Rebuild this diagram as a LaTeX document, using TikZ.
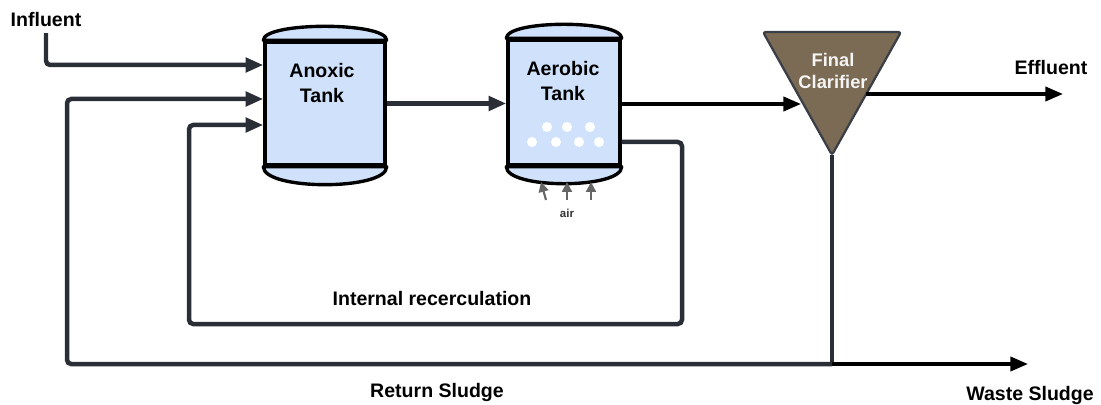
\documentclass[tikz,border=0pt]{standalone}
\usepackage{fontspec}
\setmainfont{Liberation Sans}
\usetikzlibrary{arrows.meta,calc}

\definecolor{tankblue}{HTML}{D0E2FB}
\definecolor{pipe}{HTML}{2A2E36}
\definecolor{clarbrown}{HTML}{7B6B54}
\definecolor{clarline}{HTML}{3A3E47}
\definecolor{airgray}{HTML}{666666}

\tikzset{
	flow/.style={draw=pipe, line width=3.2pt, rounded corners=3pt, -{Triangle[length=12.5pt,width=10pt]}},
	outflow/.style={draw=black, line width=2.4pt, -{Triangle[length=12.5pt,width=10pt]}},
	tankbody/.style={draw=black, line width=2.4pt, fill=tankblue, inner sep=0pt},
	tankcap/.style={draw=black, line width=2.4pt, fill=tankblue, line join=round},
	lbl/.style={font=\fontsize{13.9}{17.8}\selectfont\bfseries, align=center, inner sep=0pt},
	airarrow/.style={draw=airgray, line width=1.5pt, -{Triangle[length=7pt,width=7pt]}},
}

\begin{document}
\begin{tikzpicture}[x=0.25mm, y=-0.25mm]
	%%%%% START %%%%%
	\useasboundingbox (0,0) rectangle (1101,405);
	
	% anoxic tank
	\node[tankbody, minimum width=30mm, minimum height=30.75mm] (anoxic) at (325,103.5) {};
	\draw[tankcap] (anoxic.north west) .. controls +(0,-18.7) and +(0,-18.7) .. (anoxic.north east) -- cycle;
	\draw[tankcap] (anoxic.south west) .. controls +(0,24) and +(0,24) .. (anoxic.south east) -- cycle;
	\node[lbl] (anoxictxt) at (322,83) {Anoxic\\Tank};
	
	% aerobic tank
	\node[tankbody, minimum width=28mm, minimum height=31.25mm] (aerobic) at (564,102.5) {};
	\draw[tankcap] (aerobic.north west) .. controls +(0,-18.7) and +(0,-18.7) .. (aerobic.north east) -- cycle;
	\draw[tankcap] (aerobic.south west) .. controls +(0,22.7) and +(0,22.7) .. (aerobic.south east) -- cycle;
	\node[lbl] (aerobictxt) at (563,81) {Aerobic\\Tank};
	\foreach \x in {547,567,590} \fill[white] (\x,127) circle (1.25mm);
	\foreach \x in {532,556,579,599} \fill[white] (\x,142) circle (1.25mm);
	
	% air
	\draw[airarrow] (546,200) -- (541,182);
	\draw[airarrow] (567,200) -- (567,182);
	\draw[airarrow] (591,200) -- (591,182);
	\node[font=\fontsize{8.2}{10}\selectfont\bfseries, text=black!80, inner sep=0pt] (airtxt) at (567,213) {air};
	
	% final clarifier
	\draw[fill=clarbrown, draw=clarline, line width=1.6pt, rounded corners=2pt] (763,32) -- (901,32) -- (832,155) -- cycle;
	\coordinate (clartip) at (832,155);
	\coordinate (clarin) at (801,104);
	\coordinate (clarout) at (866,94);
	\node[lbl, text=white!96!black, font=\fontsize{13}{15}\selectfont\bfseries] (clartxt) at (833,71) {Final\\Clarifier};
	
	% labels
	\node[lbl] (influent) at (46,20) {Influent};
	\node[lbl] (effltxt) at (1051,68) {Effluent};
	\node[lbl] (recirctxt) at (432,299) {Internal recerculation};
	\node[lbl] (returntxt) at (437,392) {Return Sludge};
	\node[lbl] (wastetxt) at (1030,395) {Waste Sludge};
	
	% lines
	\coordinate (split) at (832,364);
	\draw[flow] ([yshift=-4pt]influent.south) |- (anoxic.west |- 0,65);
	\draw[flow] (anoxic.east) -- (anoxic.east -| aerobic.west);
	\draw[outflow] (aerobic.east |- 0,104) -- (clarin);
	\draw[outflow] (clarout) -- (1063,94);
	\draw[draw=pipe, line width=3pt] (clartip) -- (split);
	\draw[flow] (split) -- (67,364) -- (67,99) -- (anoxic.west |- 0,99);
	\draw[flow] (aerobic.east |- 0,142) -- (682,142) -- (682,324) -- (189,324) -- (189,125) -- (anoxic.west |- 0,125);
	\draw[outflow] (split) -- (1028,364);
	
	%%%%% END %%%%%
\end{tikzpicture}
\end{document}
